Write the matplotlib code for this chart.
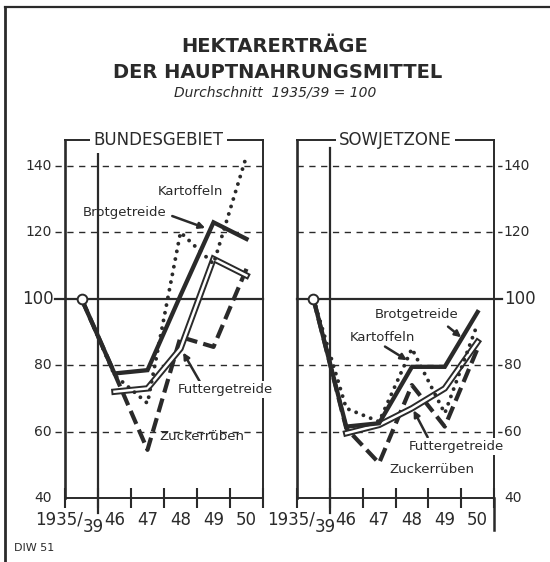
import matplotlib
matplotlib.use("Agg")
import matplotlib.pyplot as plt
import numpy as np
from matplotlib.lines import Line2D

# --- data (index 1935/39 = 100) ---
years = ["1935/39", "46", "47", "48", "49", "50"]
y_ticks = [140, 120, 80, 60, 40]

bund_brot = [100, 77.5, 78.5, 101, 123, 118]
bund_kart = [100, 77, 68.5, 120, 110.5, 143]
bund_zuck = [100, 77.5, 54.5, 88.5, 85.5, 109]
bund_futt = [100, 72, 73, 85, 112, 107]

sbz_brot = [100, 61.5, 62.5, 79.5, 79.5, 96]
sbz_kart = [100, 67, 63, 85, 65.5, 92.5]
sbz_zuck = [100, 61, 50.5, 74, 61.5, 85]
sbz_futt = [100, 59.5, 62, 67, 73, 87]

INK = "#2a2a2a"
plt.rcParams["font.family"] = ["DejaVu Sans"]

fig = plt.figure(figsize=(5.5, 5.62), dpi=100)
fig.patch.set_facecolor("white")

# outer frame (top and left edge of the sheet)
fig.add_artist(Line2D([5 / 550, 1], [1 - 7 / 562] * 2, color=INK, lw=1.6))
fig.add_artist(Line2D([5 / 550] * 2, [0, 1 - 7 / 562], color=INK, lw=2.0))

fig.text(0.5, 1 - 46 / 562, "HEKTARERTRÄGE", ha="center", va="center",
         fontsize=14, fontweight="bold", color=INK)
fig.text(0.505, 1 - 72 / 562, "DER HAUPTNAHRUNGSMITTEL", ha="center", va="center",
         fontsize=14, fontweight="bold", color=INK)
fig.text(0.5, 1 - 92 / 562, "Durchschnitt  1935/39 = 100", ha="center", va="center",
         fontsize=10, style="italic", color=INK)
fig.text(14 / 550, 1 - 548 / 562, "DIW 51", ha="left", va="center",
         fontsize=8, color=INK)

bottom = (562 - 498) / 562
height = 358 / 562
ax_l = fig.add_axes([65 / 550, bottom, 198 / 550, height])
ax_r = fig.add_axes([297 / 550, bottom, 197 / 550, height])

x = np.arange(len(years)) + 0.5


def setup(ax, title, title_x, side):
    ax.set_xlim(0, 6)
    ax.set_ylim(40, 147.8)
    ax.set_yticks([])
    ax.set_xticks(range(7))
    ax.tick_params(axis="x", direction="inout", length=14, width=1.5,
                   color=INK, labelbottom=False)
    for s in ax.spines.values():
        s.set_color(INK)
        s.set_linewidth(1.4)
    ax.spines["left"].set_linewidth(1.9)
    ax.set_facecolor("none")

    x0, x1 = (-0.3, 6) if side == "left" else (0, 6.25)
    for v in [140, 120, 80, 60]:
        ax.plot([x0, x1], [v, v], color=INK, lw=1.0, ls=(0, (4.5, 4)),
                clip_on=False, zorder=1)
    ax.plot([x0, x1], [100, 100], color=INK, lw=1.6, clip_on=False, zorder=1)

    # vertical line separating the base period
    ax.plot([1, 1], [35.6, 145.4], color=INK, lw=1.6, clip_on=False, zorder=2)

    for v in y_ticks + [100]:
        big = v == 100
        if side == "left":
            ax.text(-0.4 if not big else -0.35, v, str(v), ha="right", va="center",
                    fontsize=12 if big else 10, color=INK)
        else:
            ax.text(6.3, v, str(v), ha="left", va="center",
                    fontsize=12 if big else 10, color=INK)

    # year labels
    ax.text(0.55, 33.4, "1935/", ha="right", va="center", fontsize=12, color=INK)
    ax.text(0.53, 31.3, "39", ha="left", va="center", fontsize=12, color=INK)
    for xi, lab in zip(x[1:], years[1:]):
        ax.text(xi, 33.4, lab, ha="center", va="center", fontsize=12, color=INK)

    ax.text(title_x, 147.8, title, ha="center", va="center", fontsize=12,
            color=INK, clip_on=False, zorder=10,
            bbox=dict(facecolor="white", edgecolor="none", pad=2.5))


def draw(ax, brot, kart, zuck, futt):
    ax.plot(x, zuck, color=INK, lw=3.0, ls=(0, (3.4, 1.5)), zorder=3)
    ax.plot(x[1:], futt[1:], color=INK, lw=4.6, zorder=4,
            solid_joinstyle="miter")
    ax.plot(x[1:], futt[1:], color="white", lw=1.8, zorder=4.1,
            solid_joinstyle="miter")
    ax.plot(x, kart, color=INK, lw=2.8, ls=(0, (0.01, 2.0)),
            dash_capstyle="round", zorder=5)
    ax.plot(x, brot, color=INK, lw=3.1, zorder=6, solid_joinstyle="miter")
    ax.plot(x[0], brot[0], "o", mfc="white", mec=INK, ms=7, mew=1.4, zorder=7)


def label(ax, text, xy, box=False):
    kw = dict(ha="center", va="center", fontsize=9.5, color=INK, zorder=12,
              clip_on=False)
    if box:
        kw["bbox"] = dict(facecolor="white", edgecolor="none", pad=1.5)
    ax.text(xy[0], xy[1], text, **kw)


def arrow(ax, start, end):
    ax.annotate("", xy=end, xytext=start,
                arrowprops=dict(arrowstyle="-|>", color=INK, lw=1.8,
                                mutation_scale=9, shrinkA=0, shrinkB=0),
                zorder=11)


setup(ax_l, "BUNDESGEBIET", 0.47 * 6, "left")
setup(ax_r, "SOWJETZONE", 0.5 * 6, "right")

draw(ax_l, bund_brot, bund_kart, bund_zuck, bund_futt)
draw(ax_r, sbz_brot, sbz_kart, sbz_zuck, sbz_futt)

# right spine of the right panel runs below the axis
ax_r.plot([6, 6], [40, 30.5], color=INK, lw=1.8, clip_on=False)

# labels, left panel
label(ax_l, "Kartoffeln", (3.8, 132.2))
label(ax_l, "Brotgetreide", (1.8, 125.9))
arrow(ax_l, (3.25, 124.9), (4.25, 121.3))
label(ax_l, "Futtergetreide", (4.85, 72.6), box=True)
arrow(ax_l, (4.1, 74.8), (3.58, 83.8))
label(ax_l, "Zuckerrüben", (4.15, 58.5))

# labels, right panel
label(ax_r, "Brotgetreide", (3.63, 95.2))
arrow(ax_r, (4.6, 91.6), (5.0, 88.4))
label(ax_r, "Kartoffeln", (2.6, 88.3))
arrow(ax_r, (2.68, 85.6), (3.35, 81.5))
label(ax_r, "Futtergetreide", (4.85, 55.5), box=True)
arrow(ax_r, (3.98, 58.3), (3.55, 66.4))
label(ax_r, "Zuckerrüben", (4.12, 48.6))

fig.savefig("out.png", dpi=100, facecolor="white")
